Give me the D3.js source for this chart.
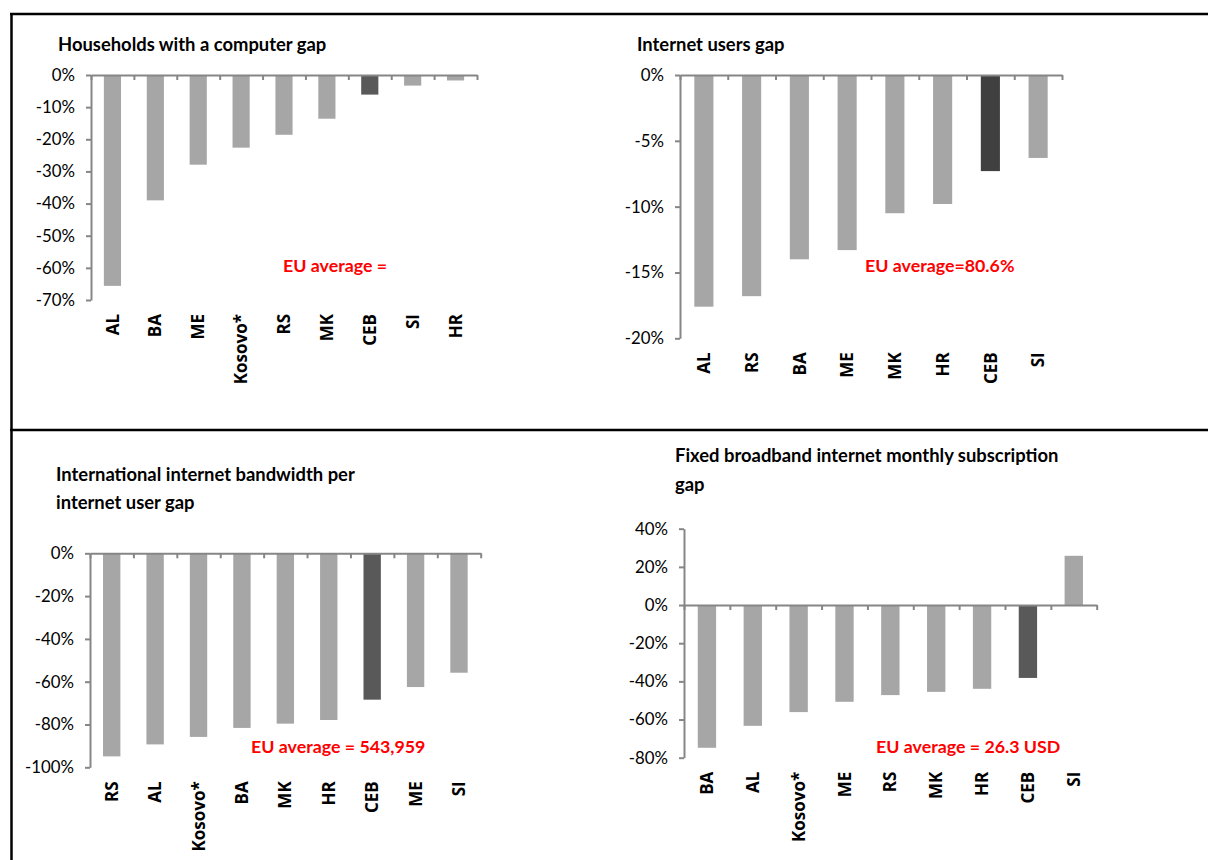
<!DOCTYPE html>
<html>
<head>
<meta charset="utf-8">
<script src="https://cdn.jsdelivr.net/npm/d3@7/dist/d3.min.js"></script>
<style>
  html, body { margin: 0; padding: 0; background: #ffffff; }
  svg { display: block; font-family: Lato, "Open Sans", sans-serif; }
</style>
</head>
<body>
<svg id="chart" width="1208" height="860"></svg>
<script>
// Households with a computer gap (% vs EU average)
const computerCategories = ["AL", "BA", "ME", "Kosovo*", "RS", "MK", "CEB", "SI", "HR"];
const computerGap = [-65.6, -39.0, -27.9, -22.6, -18.6, -13.6, -6.1, -3.3, -1.7];
const computerTicks = [0, -10, -20, -30, -40, -50, -60, -70];

// Internet users gap
const usersCategories = ["AL", "RS", "BA", "ME", "MK", "HR", "CEB", "SI"];
const usersGap = [-17.6, -16.8, -14.0, -13.3, -10.5, -9.8, -7.3, -6.3];
const usersTicks = [0, -5, -10, -15, -20];

// International internet bandwidth per internet user gap
const bandwidthCategories = ["RS", "AL", "Kosovo*", "BA", "MK", "HR", "CEB", "ME", "SI"];
const bandwidthGap = [-94.9, -89.3, -85.8, -81.6, -79.6, -77.9, -68.4, -62.5, -55.8];
const bandwidthTicks = [0, -20, -40, -60, -80, -100];

// Fixed broadband internet monthly subscription gap
const broadbandCategories = ["BA", "AL", "Kosovo*", "ME", "RS", "MK", "HR", "CEB", "SI"];
const broadbandGap = [-74.8, -63.3, -56.1, -50.7, -47.2, -45.5, -43.9, -38.2, 25.8];
const broadbandTicks = [40, 20, 0, -20, -40, -60, -80];

const svg = d3.select("#chart");

// Outer frame lines of the 2x2 layout
const frame = svg.append("g").attr("stroke", "#000").attr("stroke-width", 2.5);
frame.append("line").attr("x1", 10).attr("x2", 1208).attr("y1", 14).attr("y2", 14);
frame.append("line").attr("x1", 10).attr("x2", 1208).attr("y1", 430).attr("y2", 430);
frame.append("line").attr("x1", 11.5).attr("x2", 11.5).attr("y1", 13).attr("y2", 860);

const AXIS = "#868686";
const BAR = "#a6a6a6";

function drawPanel(cfg) {
  const g = svg.append("g");
  const n = cfg.categories.length;

  const x = d3.scaleBand()
    .domain(cfg.categories)
    .range([cfg.left, cfg.right])
    .paddingInner(0.6)
    .paddingOuter(0.3);

  const y = d3.scaleLinear()
    .domain(cfg.domain)
    .range([cfg.bottom, cfg.top]);

  // bars
  g.append("g").selectAll("rect")
    .data(cfg.values)
    .join("rect")
    .attr("x", (d, i) => x(cfg.categories[i]))
    .attr("width", x.bandwidth())
    .attr("y", d => y(Math.max(0, d)))
    .attr("height", d => Math.abs(y(d) - y(0)))
    .attr("fill", (d, i) => cfg.categories[i] === "CEB" ? cfg.highlight : BAR);

  // value axis
  const yAxis = g.append("g")
    .attr("transform", `translate(${cfg.left},0)`)
    .call(d3.axisLeft(y)
      .tickValues(cfg.ticks)
      .tickFormat(d => d + "%")
      .tickSize(5)
      .tickSizeOuter(0)
      .tickPadding(11));
  yAxis.select(".domain").attr("stroke", AXIS).attr("stroke-width", 2);
  yAxis.selectAll(".tick line").attr("stroke", AXIS).attr("stroke-width", 2);
  yAxis.selectAll(".tick text")
    .attr("fill", "#000")
    .style("font-size", "16.8px")
    .style("font-family", "Lato, sans-serif");

  // category axis at zero with boundary tick marks
  const slots = d3.scaleLinear().domain([0, n]).range([cfg.left, cfg.right]);
  const xAxis = g.append("g")
    .attr("transform", `translate(0,${y(0)})`)
    .call(d3.axisBottom(slots)
      .tickValues(d3.range(n + 1))
      .tickFormat("")
      .tickSize(5)
      .tickSizeOuter(0));
  xAxis.select(".domain").attr("stroke", AXIS).attr("stroke-width", 2);
  xAxis.selectAll(".tick line").attr("stroke", AXIS).attr("stroke-width", 2);

  // category labels, rotated, hanging below the plot
  const labelY = cfg.bottom + 14;
  g.append("g").selectAll("text")
    .data(cfg.categories)
    .join("text")
    .attr("transform", d => `translate(${x(d) + x.bandwidth() / 2},${labelY}) rotate(-90)`)
    .attr("text-anchor", "end")
    .attr("dy", "0.36em")
    .style("font-family", "'Open Sans', sans-serif")
    .style("font-size", "17px")
    .style("font-weight", 700)
    .text(d => d);

  // title
  const title = g.append("text")
    .attr("x", cfg.titleX)
    .attr("y", cfg.titleY)
    .style("font-size", "18.4px")
    .style("font-weight", 700)
    .attr("fill", "#000");
  cfg.title.forEach((line, i) => {
    title.append("tspan")
      .attr("x", cfg.titleX)
      .attr("dy", i === 0 ? 0 : cfg.titleLeading)
      .text(line);
  });

  // EU reference note
  g.append("text")
    .attr("x", cfg.noteX)
    .attr("y", cfg.noteY)
    .style("font-size", "17.8px")
    .style("font-weight", 700)
    .attr("fill", "#ff0000")
    .text(cfg.note);
}

drawPanel({
  categories: computerCategories, values: computerGap, ticks: computerTicks,
  domain: [-70, 0], left: 91, right: 477, top: 75, bottom: 300,
  highlight: "#595959",
  title: ["Households with a computer gap"], titleX: 58, titleY: 51, titleLeading: 28,
  note: "EU average =", noteX: 283, noteY: 272
});

drawPanel({
  categories: usersCategories, values: usersGap, ticks: usersTicks,
  domain: [-20, 0], left: 680, right: 1062, top: 75, bottom: 338.3,
  highlight: "#404040",
  title: ["Internet users gap"], titleX: 637, titleY: 51, titleLeading: 28,
  note: "EU average=80.6%", noteX: 865, noteY: 272
});

drawPanel({
  categories: bandwidthCategories, values: bandwidthGap, ticks: bandwidthTicks,
  domain: [-100, 0], left: 90, right: 480.7, top: 553.3, bottom: 767.3,
  highlight: "#595959",
  title: ["International internet bandwidth per", "internet user gap"],
  titleX: 56, titleY: 481, titleLeading: 28,
  note: "EU average = 543,959", noteX: 251, noteY: 753
});

drawPanel({
  categories: broadbandCategories, values: broadbandGap, ticks: broadbandTicks,
  domain: [-80, 40], left: 684, right: 1096.7, top: 528.7, bottom: 757.7,
  highlight: "#595959",
  title: ["Fixed broadband internet monthly subscription", "gap"],
  titleX: 675, titleY: 462, titleLeading: 28.5,
  note: "EU average = 26.3 USD", noteX: 876, noteY: 753
});
</script>
</body>
</html>
